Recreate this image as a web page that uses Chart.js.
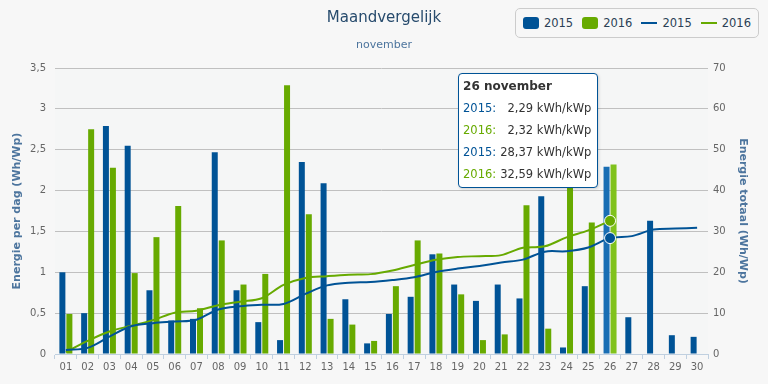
<!DOCTYPE html>
<html>
<head>
<meta charset="utf-8">
<script src="https://cdn.jsdelivr.net/npm/chart.js@4.4.0/dist/chart.umd.min.js"></script>
<style>
  body { margin: 0; background: #f7f7f7; font-family: "DejaVu Sans", sans-serif; }
  #wrap { position: relative; width: 768px; height: 384px; }
  #legend {
    position: absolute; right: 9px; top: 8px; height: 28px;
    border: 1px solid #cccccc; border-radius: 5px; padding: 0 7px;
    display: flex; align-items: center; font-size: 11.5px; color: #2b3f55;
    background: #f7f7f7;
  }
  #legend .item { display: flex; align-items: center; margin-right: 9px; }
  #legend .item:last-child { margin-right: 0; }
  #legend .box { width: 16px; height: 12px; border-radius: 3px; margin-right: 5px; }
  #legend .line { width: 16px; height: 2px; margin-right: 5px; }
  #tip {
    position: absolute; display: none; background: #ffffff;
    border: 1px solid #005396; border-radius: 4px; padding: 1px 6px 2px 4px;
    font-size: 11.5px; color: #333333; white-space: nowrap;
    box-shadow: 1px 1px 3px rgba(0,0,0,0.15);
  }
  #tip .tt { font-weight: bold; font-size: 12px; line-height: 22px; }
  #tip table { border-collapse: collapse; width: 100%; }
  #tip td { padding: 0; line-height: 22px; height: 22px; }
  #tip td.v { text-align: right; padding-left: 4px; }
</style>
</head>
<body>
<div id="wrap">
  <canvas id="myChart" width="768" height="384"></canvas>
  <div id="legend"></div>
  <div id="tip"></div>
</div>
<script>
// data
var days = ['01','02','03','04','05','06','07','08','09','10','11','12','13','14','15',
            '16','17','18','19','20','21','22','23','24','25','26','27','28','29','30'];
var month = 'november';
var years = ['2015', '2016'];

// energie per dag (kWh/kWp)
var dag2015 = [1.00, 0.50, 2.79, 2.55, 0.78, 0.41, 0.43, 2.47, 0.78, 0.39, 0.17, 2.35, 2.09, 0.67, 0.13,
               0.49, 0.70, 1.22, 0.85, 0.65, 0.85, 0.68, 1.93, 0.08, 0.83, 2.29, 0.45, 1.63, 0.23, 0.21];
var dag2016 = [0.49, 2.75, 2.28, 0.99, 1.43, 1.81, 0.56, 1.39, 0.85, 0.98, 3.29, 1.71, 0.43, 0.36, 0.16,
               0.83, 1.39, 1.23, 0.73, 0.17, 0.24, 1.82, 0.31, 2.25, 1.61, 2.32, null, null, null, null];

// energie totaal (kWh/kWp)
var totaal2015 = [1.0, 1.5, 4.25, 6.8, 7.55, 7.95, 8.4, 10.9, 11.7, 12.05, 12.25, 14.7, 16.8, 17.45, 17.6,
                  18.1, 18.8, 20.05, 20.9, 21.55, 22.4, 23.1, 25.05, 25.15, 26.05, 28.37, 28.85, 30.45, 30.7, 30.9];
var totaal2016 = [0.49, 3.2, 5.5, 6.9, 8.3, 10.1, 10.6, 11.95, 12.8, 13.65, 16.9, 18.6, 19.05, 19.4, 19.55,
                  20.45, 21.8, 23.05, 23.75, 23.95, 24.2, 26.0, 26.35, 28.55, 30.25, 32.59];

var activeDay = 25; // index van "26"

var blue = '#005396', green = '#67aa00';
var blueHover = '#196eb4', greenHover = '#80c21c';

Chart.defaults.font.family = '"DejaVu Sans", sans-serif';

function komma(v) {
    return String(v).replace('.', ',');
}

function fmt(v) {
    return v.toFixed(2).replace('.', ',');
}

var bgPlugin = {
    id: 'bg',
    beforeDraw: function (chart) {
        var c = chart.ctx, a = chart.chartArea;
        c.save();
        c.fillStyle = '#f7f7f7';
        c.fillRect(0, 0, chart.width, chart.height);
        c.fillStyle = '#f5f6f6';
        c.fillRect(a.left, a.top, a.right - a.left, a.bottom - a.top);
        c.restore();
    }
};

function tooltipHtml(context) {
    var tt = context.tooltip;
    var el = document.getElementById('tip');
    if (tt.opacity === 0 || !tt.dataPoints || !tt.dataPoints.length) {
        el.style.display = 'none';
        return;
    }
    var pts = tt.dataPoints;
    var html = '<div class="tt">' + parseInt(pts[0].label, 10) + ' ' + month + '</div><table>';
    pts.forEach(function (p) {
        html += '<tr><td style="color:' + p.dataset.borderColor + '">' + p.dataset.label + ':</td>' +
                '<td class="v">' + fmt(p.raw) + ' kWh/kWp</td></tr>';
    });
    html += '</table>';
    el.innerHTML = html;
    el.style.display = 'block';
    var x = context.chart.scales.x.getPixelForValue(pts[0].dataIndex);
    el.style.left = (x - el.offsetWidth - 12) + 'px';
    el.style.top = (context.chart.chartArea.top + 5) + 'px';
}

var chart = new Chart(document.getElementById('myChart'), {
    data: {
        labels: days,
        datasets: [
            {
                type: 'bar', label: years[0], data: dag2015, yAxisID: 'y', order: 1,
                backgroundColor: blue, borderColor: blue, hoverBackgroundColor: blueHover, borderWidth: 0,
                categoryPercentage: 0.643, barPercentage: 0.857
            },
            {
                type: 'bar', label: years[1], data: dag2016, yAxisID: 'y', order: 1,
                backgroundColor: green, borderColor: green, hoverBackgroundColor: greenHover, borderWidth: 0,
                categoryPercentage: 0.643, barPercentage: 0.857
            },
            {
                type: 'line', label: years[0], data: totaal2015, yAxisID: 'y1', order: 0,
                borderColor: blue, backgroundColor: blue, borderWidth: 2, tension: 0.35,
                pointRadius: 0, pointHoverRadius: 5.5, pointHoverBorderWidth: 1,
                pointHoverBorderColor: '#ffffff', pointHoverBackgroundColor: blue
            },
            {
                type: 'line', label: years[1], data: totaal2016, yAxisID: 'y1', order: 0,
                borderColor: green, backgroundColor: green, borderWidth: 2, tension: 0.35,
                pointRadius: 0, pointHoverRadius: 5.5, pointHoverBorderWidth: 1,
                pointHoverBorderColor: '#ffffff', pointHoverBackgroundColor: green
            }
        ]
    },
    options: {
        responsive: false,
        animation: false,
        events: [],
        interaction: { mode: 'index', intersect: false },
        layout: { padding: 0 },
        plugins: {
            legend: { display: false },
            title: {
                display: true, text: 'Maandvergelijk', color: '#274b6d',
                font: { size: 15, weight: 'normal' }, padding: { top: 9, bottom: 0 }
            },
            subtitle: {
                display: true, text: month, color: '#4d759e',
                font: { size: 11 }, padding: { top: 11.4, bottom: 16.4 }
            },
            tooltip: { enabled: false, external: tooltipHtml }
        },
        scales: {
            x: {
                offset: true,
                grid: { offset: true, drawOnChartArea: false, drawTicks: true, tickLength: 5, color: '#c0d0e0' },
                border: { color: '#c0d0e0' },
                ticks: { color: '#666666', font: { size: 10 }, autoSkip: false, maxRotation: 0, padding: 2 },
                afterFit: function (s) { s.height = 30; }
            },
            y: {
                position: 'left', min: 0, max: 3.5,
                grid: { color: '#c0c0c0', drawTicks: false },
                border: { display: false },
                ticks: { stepSize: 0.5, color: '#666666', font: { size: 10 }, padding: 9,
                         callback: function (v) { return komma(v); } },
                title: { display: true, text: 'Energie per dag (Wh/Wp)', color: '#4d759e',
                         font: { size: 11, weight: 'bold' }, padding: { top: 10.4, bottom: 0 } },
                afterFit: function (s) { s.width = 55; }
            },
            y1: {
                position: 'right', min: 0, max: 70,
                grid: { drawOnChartArea: false, drawTicks: false },
                border: { display: false },
                ticks: { stepSize: 10, color: '#666666', font: { size: 10 }, padding: 5 },
                title: { display: true, text: 'Energie totaal (Wh/Wp)', color: '#4d759e',
                         font: { size: 11, weight: 'bold' }, padding: { top: 18.4, bottom: 0 } },
                afterFit: function (s) { s.width = 60; }
            }
        }
    },
    plugins: [bgPlugin]
});

// legenda
var legend = document.getElementById('legend');
chart.data.datasets.forEach(function (ds) {
    var item = document.createElement('span');
    item.className = 'item';
    var mark = document.createElement('span');
    mark.className = ds.type === 'line' ? 'line' : 'box';
    mark.style.background = ds.borderColor;
    var txt = document.createElement('span');
    txt.textContent = ds.label;
    item.appendChild(mark);
    item.appendChild(txt);
    legend.appendChild(item);
});

// hover op 26 november
var active = [0, 1, 2, 3].map(function (i) { return { datasetIndex: i, index: activeDay }; });
chart.setActiveElements(active);
chart.tooltip.setActiveElements(active, { x: chart.scales.x.getPixelForValue(activeDay), y: chart.chartArea.top });
chart.update();
</script>
</body>
</html>
